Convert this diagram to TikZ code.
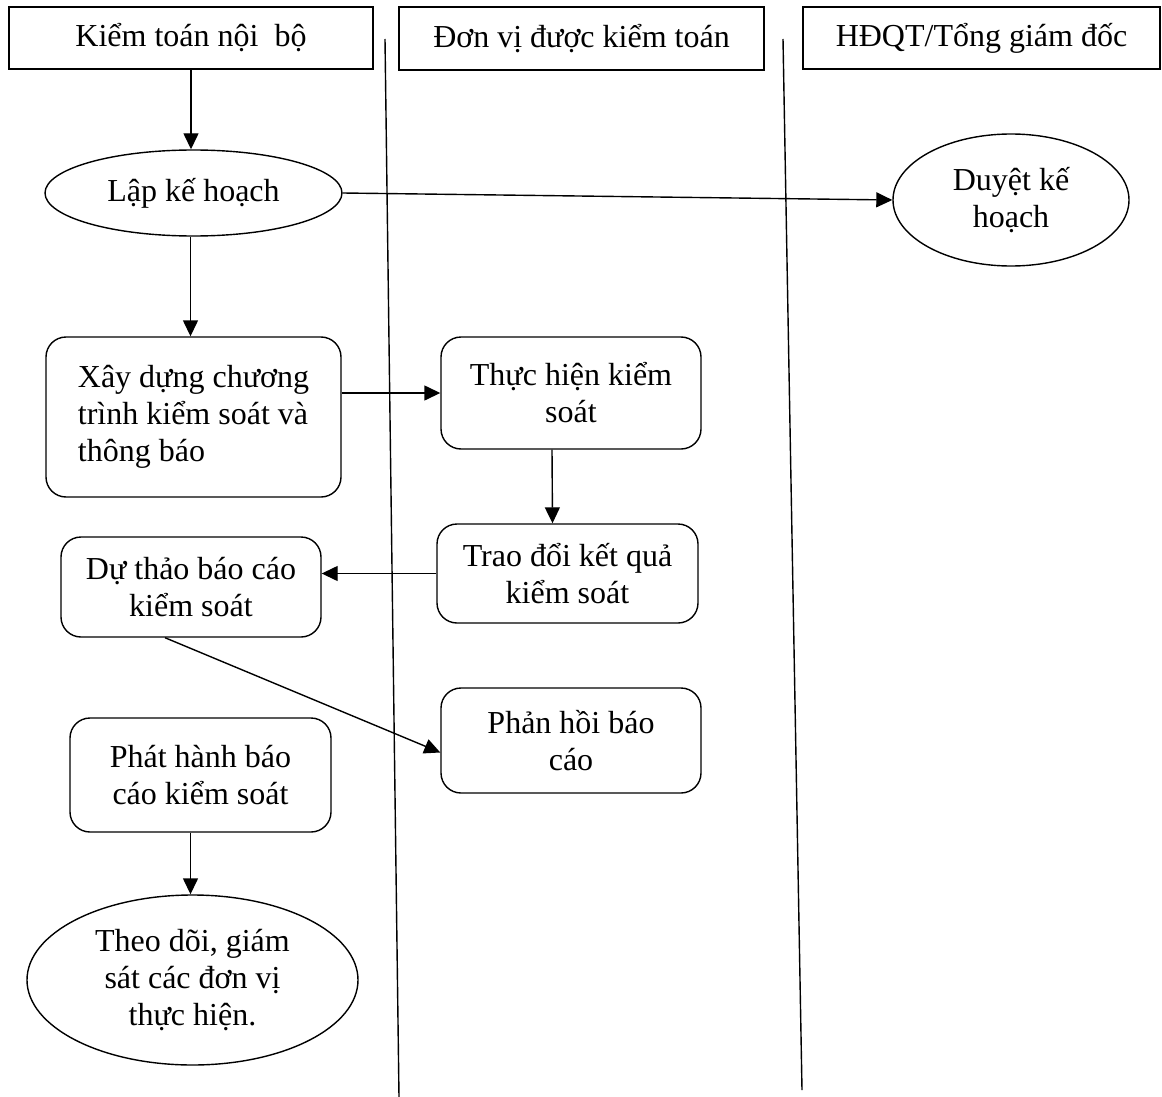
\documentclass[tikz,border=0pt]{standalone}
\usepackage{fontspec}
\setmainfont{Liberation Serif}
\usepackage{tikz}
\usetikzlibrary{arrows.meta}
\usetikzlibrary{shapes}
\usetikzlibrary{positioning}
\tikzstyle{every node}=[font=\fontsize{32}{37}\selectfont]
\tikzstyle{lanehead}=[rectangle,draw,line width=1.4pt,inner sep=0pt]
\tikzstyle{oval}=[ellipse,draw,line width=1.4pt,inner sep=0pt,align=center]
\tikzstyle{task}=[rectangle,rounded corners=20pt,draw,line width=1.4pt,inner sep=0pt,align=center]
\tikzstyle{flow}=[line width=1.4pt,-{Triangle[length=16pt,width=15pt]}]

\begin{document}
\begin{tikzpicture}[x=1pt,y=-1pt]
	\useasboundingbox (0,0) rectangle (1162,1097);
	% lanes
	\node[lanehead,minimum width=364,minimum height=62] (kt) at (191,38) {Kiểm toán nội\ \ bộ};
	\node[lanehead,minimum width=365,minimum height=63] (dv) at (581.5,38.5) {Đơn vị được kiểm toán};
	\node[lanehead,minimum width=357,minimum height=62] (hd) at (981.5,38) {HĐQT/Tổng giám đốc};
	\coordinate (s1top) at (385,39);
	\coordinate (s1bot) at (399,1097);
	\coordinate (s2top) at (783,39);
	\coordinate (s2bot) at (802,1090);
	\draw[line width=1.4pt] (s1top) -- (s1bot);
	\draw[line width=1.4pt] (s2top) -- (s2bot);
	% steps
	\node[oval,minimum width=297,minimum height=86] (lap) at (193.5,193) {Lập kế hoạch};
	\node[oval,minimum width=236,minimum height=132] (duyet) at (1011,200) {Duyệt kế\\hoạch};
	\node[task,minimum width=295,minimum height=160,align=left] (xd) at (193.5,417) {Xây dựng chương\\trình kiểm soát và\\thông báo};
	\node[task,minimum width=260,minimum height=112] (th) at (571,393) {Thực hiện kiểm\\soát};
	\node[task,minimum width=261,minimum height=99] (td) at (567.5,573.5) {Trao đổi kết quả\\kiểm soát};
	\node[task,minimum width=260,minimum height=100] (dt) at (191,587) {Dự thảo báo cáo\\kiểm soát};
	\node[task,minimum width=260,minimum height=105] (ph) at (571,740.5) {Phản hồi báo\\cáo};
	\node[task,minimum width=261,minimum height=114] (pt) at (200.5,775) {Phát hành báo\\cáo kiểm soát};
	\node[oval,minimum width=331,minimum height=170] (theo) at (192.5,980) {Theo dõi, giám\\sát các đơn vị\\thực hiện.};
	% arrows
	\draw[flow] (kt.south) -- (kt.south |- lap.north);
	\draw[flow] (lap.east) -- (duyet.west);
	\draw[flow] ([xshift=-3]lap.south) -- ([xshift=-3]lap.south |- xd.north);
	\draw[flow] (xd.east |- th) -- (th.west);
	\draw[flow] ([xshift=-19]th.south) -- ([xshift=-15]td.north);
	\draw[flow] (td.west) -- (td.west -| dt.east);
	\draw[flow] ([xshift=-26]dt.south) -- ([yshift=-12]ph.west);
	\draw[flow] ([xshift=-10]pt.south) -- ([xshift=-2]theo.north);
\end{tikzpicture}
\end{document}
